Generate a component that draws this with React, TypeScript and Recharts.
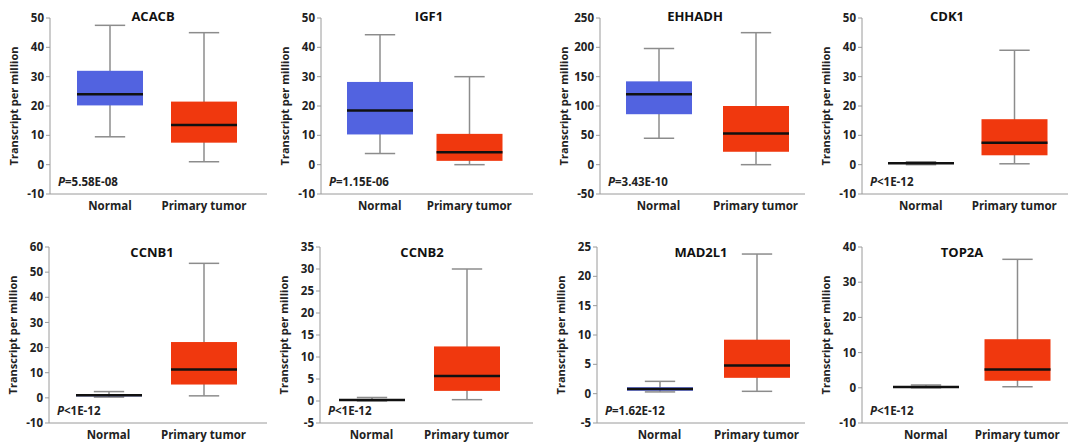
import { Bar, ComposedChart, XAxis, YAxis } from "recharts"

const genes = ["ACACB", "IGF1", "EHHADH", "CDK1", "CCNB1", "CCNB2", "MAD2L1", "TOP2A"]
const groups = ["Normal", "Primary tumor"]
const pTexts = ["=5.58E-08", "=1.15E-06", "=3.43E-10", "<1E-12", "<1E-12", "<1E-12", "=1.62E-12", "<1E-12"]

// [min, q1, median, q3, max]
const normalStats = [
  [9.5, 20.2, 24, 32, 47.5],
  [3.8, 10.3, 18.5, 28.2, 44.3],
  [45, 86, 120, 142, 198],
  [0, 0.3, 0.5, 0.8, 1],
  [0.3, 0.6, 1, 1.3, 2.5],
  [0, 0.05, 0.2, 0.3, 0.8],
  [0.3, 0.5, 0.8, 1.1, 2.1],
  [0, 0.1, 0.2, 0.4, 0.8],
]
const tumorStats = [
  [1, 7.5, 13.5, 21.5, 45],
  [0, 1.3, 4.2, 10.5, 30],
  [0, 22, 53, 100, 225],
  [0.3, 3.2, 7.5, 15.5, 39],
  [0.8, 5.3, 11.3, 22.2, 53.5],
  [0.3, 2.3, 5.7, 12.4, 30],
  [0.4, 2.7, 4.8, 9.2, 23.8],
  [0.3, 2, 5.2, 13.8, 36.5],
]
const yTicks = [
  [-10, 0, 10, 20, 30, 40, 50],
  [-10, 0, 10, 20, 30, 40, 50],
  [-50, 0, 50, 100, 150, 200, 250],
  [-10, 0, 10, 20, 30, 40, 50],
  [-10, 0, 10, 20, 30, 40, 50, 60],
  [-5, 0, 5, 10, 15, 20, 25, 30, 35],
  [-5, 0, 5, 10, 15, 20, 25],
  [-10, 0, 10, 20, 30, 40],
]

const BLUE = "#5263e0"
const RED = "#f0380e"
const FONT = "'Open Sans', 'DejaVu Sans', sans-serif"

// layout per panel: axis x, right end, top, title center, x padding
const layout = [
  { ax: 50, right: 267, top: 0, tx: 153, pl: 13, pr: 16 },
  { ax: 321, right: 533, top: 0, tx: 429, pl: 14, pr: 19 },
  { ax: 600, right: 805, top: 0, tx: 695, pl: 10, pr: 1 },
  { ax: 862, right: 1068, top: 0, tx: 947, pl: 12, pr: 7 },
  { ax: 49, right: 267, top: 229, tx: 152, pl: 12, pr: 16 },
  { ax: 320, right: 533, top: 229, tx: 422, pl: 4, pr: 19 },
  { ax: 597, right: 805, top: 229, tx: 701, pl: 14, pr: 0 },
  { ax: 862, right: 1068, top: 229, tx: 962, pl: 18, pr: 5 },
]

const AXIS_W = 52
const CH_H = 220

function BoxShape(props: any) {
  const { x, y, width, height, payload } = props
  const [mn, q1, md, q3, mx] = payload.stats
  const top = Math.min(y, y + height)
  const bottom = Math.max(y, y + height)
  const toPx = (v: number) => bottom - ((v - mn) / (mx - mn)) * (bottom - top)
  const cx = x + width / 2
  const cap = width * 0.23
  const grey = "#8c8c8c"
  return (
    <g>
      <line x1={cx} x2={cx} y1={toPx(mx)} y2={toPx(mn)} stroke={grey} strokeWidth={1.5} />
      <line x1={cx - cap} x2={cx + cap} y1={toPx(mx)} y2={toPx(mx)} stroke={grey} strokeWidth={1.5} />
      <line x1={cx - cap} x2={cx + cap} y1={toPx(mn)} y2={toPx(mn)} stroke={grey} strokeWidth={1.5} />
      <rect x={x} y={toPx(q3)} width={width} height={Math.max(toPx(q1) - toPx(q3), 1)} fill={payload.color} />
      <line x1={x} x2={x + width} y1={toPx(md)} y2={toPx(md)} stroke="#111" strokeWidth={2.5} />
    </g>
  )
}

function Panel({ i }: { i: number }) {
  const l = layout[i]
  const ticks = yTicks[i]
  const data = [
    { name: groups[0], stats: normalStats[i], color: BLUE },
    { name: groups[1], stats: tumorStats[i], color: RED },
  ]
  const left = l.ax - AXIS_W
  const width = l.right - left
  const plotBottom = l.top + CH_H - 26
  return (
    <>
      <div style={{ position: "absolute", left, top: l.top, width, height: CH_H }}>
        <ComposedChart width={width} height={CH_H} data={data} margin={{ top: 18, right: 0, bottom: 0, left: 0 }}>
          <XAxis
            dataKey="name"
            height={26}
            padding={{ left: l.pl, right: l.pr }}
            tickLine={false}
            axisLine={{ stroke: "#9a9a9a" }}
            tick={{ fontSize: 11.5, fontWeight: 700, fill: "#222", fontFamily: FONT }}
            interval={0}
          />
          <YAxis
            width={AXIS_W}
            domain={[ticks[0], ticks[ticks.length - 1]]}
            ticks={ticks}
            interval={0}
            tickSize={4}
            tickLine={{ stroke: "#9a9a9a" }}
            axisLine={{ stroke: "#9a9a9a" }}
            tick={{ fontSize: 11.5, fontWeight: 700, fill: "#222", fontFamily: FONT }}
            label={{
              value: "Transcript per million",
              angle: -90,
              position: "insideLeft",
              offset: 16,
              style: { fontSize: 11, fontWeight: 700, fill: "#222", fontFamily: FONT, textAnchor: "middle" },
            }}
          />
          <Bar
            dataKey={(d: any) => [d.stats[0], d.stats[4]]}
            barSize={66}
            shape={BoxShape}
            isAnimationActive={false}
          />
        </ComposedChart>
      </div>
      <div
        style={{
          position: "absolute",
          left: l.tx - 50,
          width: 100,
          top: l.top + (i < 4 ? 8 : 15),
          textAlign: "center",
          fontFamily: FONT,
          fontWeight: 700,
          fontSize: 13,
          color: "#111",
          lineHeight: "16px",
        }}
      >
        {genes[i]}
      </div>
      <div
        style={{
          position: "absolute",
          left: l.ax + 8,
          top: plotBottom - 19,
          fontFamily: FONT,
          fontWeight: 700,
          fontSize: 11.5,
          color: "#222",
          lineHeight: "14px",
          whiteSpace: "nowrap",
        }}
      >
        <i>P</i>
        {pTexts[i]}
      </div>
    </>
  )
}

export default function App() {
  return (
    <div style={{ position: "absolute", left: 0, top: 0, width: 1071, height: 443, background: "#fff", overflow: "hidden" }}>
      {genes.map((g, i) => (
        <Panel key={g} i={i} />
      ))}
    </div>
  )
}
